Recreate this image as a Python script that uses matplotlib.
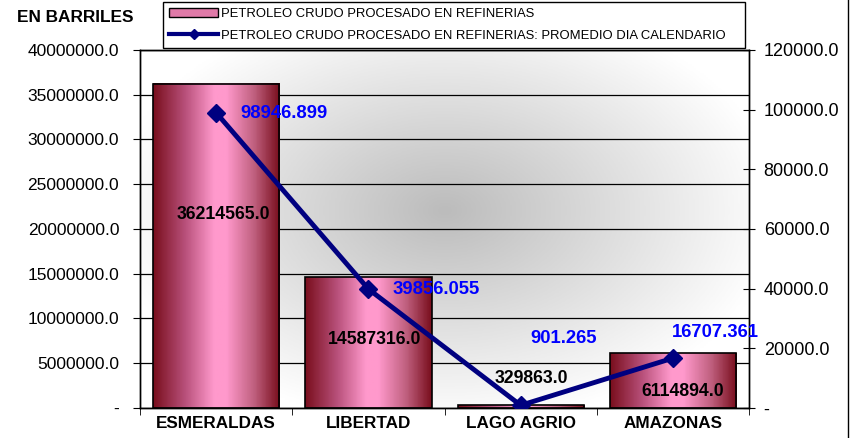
import numpy as np
import matplotlib.pyplot as plt
from matplotlib.colors import LinearSegmentedColormap
from matplotlib.ticker import FuncFormatter, FixedLocator
from matplotlib.patches import Patch
from matplotlib.lines import Line2D

plt.rcParams['font.family'] = ['Liberation Sans', 'DejaVu Sans']

# datos
refinerias = ["ESMERALDAS", "LIBERTAD", "LAGO AGRIO", "AMAZONAS"]
barriles = [36214565.0, 14587316.0, 329863.0, 6114894.0]
promedio_dia = [98946.899, 39856.055, 901.265, 16707.361]

nombre_barras = "PETROLEO CRUDO PROCESADO EN REFINERIAS"
nombre_linea = "PETROLEO CRUDO PROCESADO EN REFINERIAS: PROMEDIO DIA CALENDARIO"

fig = plt.figure(figsize=(8.56, 4.38), dpi=100)
ax = fig.add_axes([0.1636, 0.0685, 0.7115, 0.8175])
ax2 = ax.twinx()

x = np.arange(len(refinerias))
ancho = 0.83

# fondo con degradado radial gris
gx, gy = np.meshgrid(np.linspace(0, 1, 300), np.linspace(0, 1, 200))
r = np.sqrt(((gx - 0.5) / 0.55) ** 2 + ((gy - 0.55) / 0.6) ** 2)
fondo = np.clip(1 - r, 0, 1)
cmap_fondo = LinearSegmentedColormap.from_list("fondo", ["#ffffff", "#bcbcbc"])
ax.imshow(fondo, cmap=cmap_fondo, extent=[0, 1, 0, 1], transform=ax.transAxes,
          aspect='auto', zorder=0, origin='lower')

# barras con degradado horizontal
cmap_barra = LinearSegmentedColormap.from_list(
    "barra", [(0, "#7a0f1e"), (0.25, "#b8507a"), (0.48, "#ff99cc"), (0.58, "#ff99cc"),
              (0.8, "#c0607f"), (1, "#7a0f1e")])
grad = np.linspace(0, 1, 100).reshape(1, -1)
for xi, v in zip(x, barriles):
    ax.imshow(grad, cmap=cmap_barra, extent=[xi - ancho / 2, xi + ancho / 2, 0, v],
              aspect='auto', zorder=2)
ax.bar(x, barriles, width=ancho, facecolor='none', edgecolor='black', linewidth=1.2, zorder=3)

ax.set_xlim(-0.5, len(refinerias) - 0.5)
ax.set_ylim(0, 40000000)
ax.set_yticks(np.arange(0, 40000001, 5000000))
ax.yaxis.set_major_formatter(FuncFormatter(lambda v, p: "-" if v == 0 else f"{v:.1f}"))
ax.yaxis.grid(True, color='black', linewidth=0.9)
ax.set_axisbelow(True)
ax.tick_params(axis='y', direction='out', length=5, labelsize=12.5, pad=10)

ax.set_xticks(x)
ax.set_xticklabels(refinerias, fontsize=12.3, fontweight='bold')
ax.xaxis.set_minor_locator(FixedLocator(np.arange(-0.5, len(refinerias), 1)))
ax.tick_params(axis='x', which='major', length=0, pad=6)
ax.tick_params(axis='x', which='minor', length=5, direction='out')

# etiquetas de las barras
pos_etq_barras = [(0.046, 21560000), (0.043, 7600000), (0.072, 3350000), (0.062, 1790000)]
for xi, v, (dx, yy) in zip(x, barriles, pos_etq_barras):
    ax.text(xi + dx, yy, f"{v:.1f}", ha='center', va='center', fontsize=12.7,
            fontweight='bold', zorder=5)

# linea de promedio diario
ax2.plot(x, promedio_dia, color='#000080', linewidth=3.5, marker='D', markersize=9, zorder=4)
ax2.set_ylim(0, 120000)
ax2.set_yticks(np.arange(0, 120001, 20000))
ax2.yaxis.set_major_formatter(FuncFormatter(lambda v, p: "-" if v == 0 else f"{v:.1f}"))
ax2.tick_params(axis='y', direction='inout', length=9, labelsize=13, pad=6)

pos_etq_linea = [(0.157, 98550), (0.16, 39550), (0.066, 23130), (-0.01, 25140)]
for xi, v, (dx, yy) in zip(x, promedio_dia, pos_etq_linea):
    ax2.text(xi + dx, yy, f"{v:.3f}", ha='left', va='center', color='#0000ff',
             fontsize=13.3, fontweight='bold', zorder=6)

for a in (ax, ax2):
    for s in a.spines.values():
        s.set_linewidth(1)

ax.set_zorder(1)
ax2.set_zorder(2)
ax2.patch.set_visible(False)

# leyenda
h1 = Patch(facecolor='#e07aa8', edgecolor='black')
h2 = Line2D([], [], color='#000080', linewidth=3, marker='D', markersize=5)
leg = fig.legend([h1, h2], [nombre_barras, nombre_linea], loc='upper left',
                 bbox_to_anchor=(163 / 856, 1 - 49 / 438, (745 - 163) / 856, 47 / 438),
                 mode='expand', fontsize=9.4, frameon=True,
                 fancybox=False, edgecolor='black', framealpha=1, borderpad=0.45,
                 labelspacing=0.75, handlelength=3.8, handletextpad=0.2, borderaxespad=0)
leg.set_zorder(10)

fig.text(17 / 856, 1 - 18 / 438, "EN BARRILES", fontsize=12.4, fontweight='bold', va='center')

# borde derecho del grafico
fig.add_artist(Line2D([848 / 856, 848 / 856], [0, 1], color='black', linewidth=1))

fig.savefig("out.png", dpi=100)
